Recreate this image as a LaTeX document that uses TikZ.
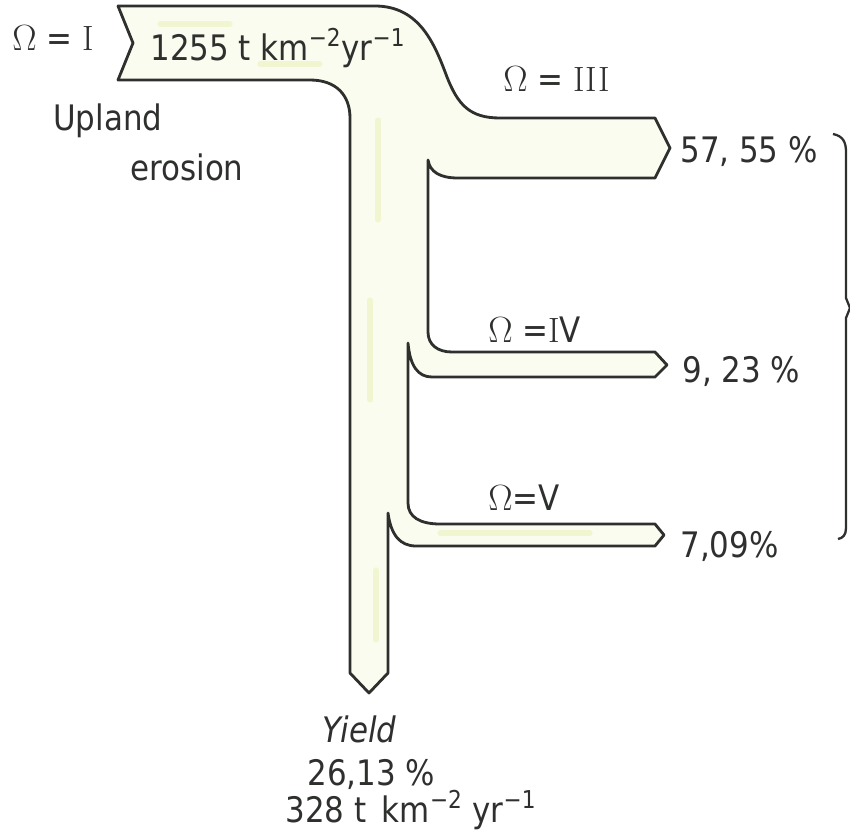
\documentclass[tikz,border=0pt]{standalone}
\usepackage{fontspec}
\setsansfont{DejaVu Sans}[FakeStretch=0.88]
\usetikzlibrary{positioning}
\definecolor{ink}{RGB}{45,48,45}
\definecolor{paleband}{RGB}{251,252,240}
\definecolor{streak}{RGB}{232,242,180}
\newcommand\bandoutline{(118,6) -- (375,6)
  .. controls (420,6) and (435,45) .. (447,77)
  .. controls (458,105) and (470,118) .. (500,118)
  -- (655,118) -- (670,148) -- (655,178)
  -- (458,178) .. controls (440,178) and (430,172) .. (428,160)
  -- (428,332) .. controls (428,345) and (438,352) .. (452,352)
  -- (655,352) -- (667,365) -- (655,377)
  -- (432,377) .. controls (418,377) and (410,366) .. (408,343)
  -- (408,503) .. controls (408,517) and (420,524) .. (440,524)
  -- (655,524) -- (664,535) -- (655,546)
  -- (416,546) .. controls (400,546) and (391,535) .. (388,513)
  -- (388,673) -- (369,693) -- (350,673)
  -- (350,118) .. controls (350,95) and (336,80) .. (310,80)
  -- (118,80) -- (133,43) -- cycle}
\tikzset{
  band/.style={draw=ink,line width=1.6pt,line join=round},
  lbl/.style={inner sep=0pt,text=ink,font=\sffamily\fontsize{20}{24}\selectfont},
  brace/.style={draw=ink,line width=1.3pt}
}
\begin{document}
\begin{tikzpicture}[x=0.02cm,y=-0.02cm]
\useasboundingbox (0,0) rectangle (850,839);
% sediment band
\fill[paleband] \bandoutline;
\begin{scope}
\clip \bandoutline;
\draw[streak,opacity=.5,line width=3pt,line cap=round] (160,24) -- (230,24) (260,64) -- (320,64) (378,120) -- (378,220) (370,300) -- (370,400) (376,570) -- (376,640) (440,533) -- (590,533);
\end{scope}
\draw[band] \bandoutline;
% tips of the branches
\coordinate (tipIII) at (670,148);
\coordinate (tipIV) at (667,365);
\coordinate (tipV) at (664,535);
\coordinate (tipY) at (369,693);
% labels
\node[lbl,anchor=base west] (omegaI) at (12,50) {$\Omega$ = \textrm{I}};
\node[lbl,anchor=base west] (inflow) at (150,60) {1255 t km\textsuperscript{−2}yr\textsuperscript{−1}};
\node[lbl,anchor=base west] (upland) at (53,130) {Upland};
\node[lbl,anchor=base west] (erosion) at (130,180) {erosion};
\node[lbl,anchor=base west] (omegaIII) at (503,91) {$\Omega$ = \textrm{III}};
\node[lbl,anchor=base west] (outIII) at (680,162) {57, 55 \%};
\node[lbl,anchor=base west] (omegaIV) at (488,342) {$\Omega$ =\textrm{I}V};
\node[lbl,anchor=base west] (outIV) at (682,382) {9, 23 \%};
\node[lbl,anchor=base west] (omegaV) at (488,510) {$\Omega$=V};
\node[lbl,anchor=base west] (outV) at (680,557) {7,09\%};
\node[lbl,anchor=base west] (yield) at (322,742) {\itshape Yield};
\node[lbl,anchor=base west,text depth=0pt] (share) at (307,785) {26,13 \%};
\node[lbl,anchor=base west] (yieldrate) at (285,822) {328 t\, km\textsuperscript{−2} yr\textsuperscript{−1}};
% brace
\draw[brace] (833,134) .. controls (843,136) and (846,142) .. (846,152) -- (846,298) -- (850,308) -- (846,318) -- (846,528) .. controls (846,535) and (843,538) .. (838,539);
\end{tikzpicture}
\end{document}
